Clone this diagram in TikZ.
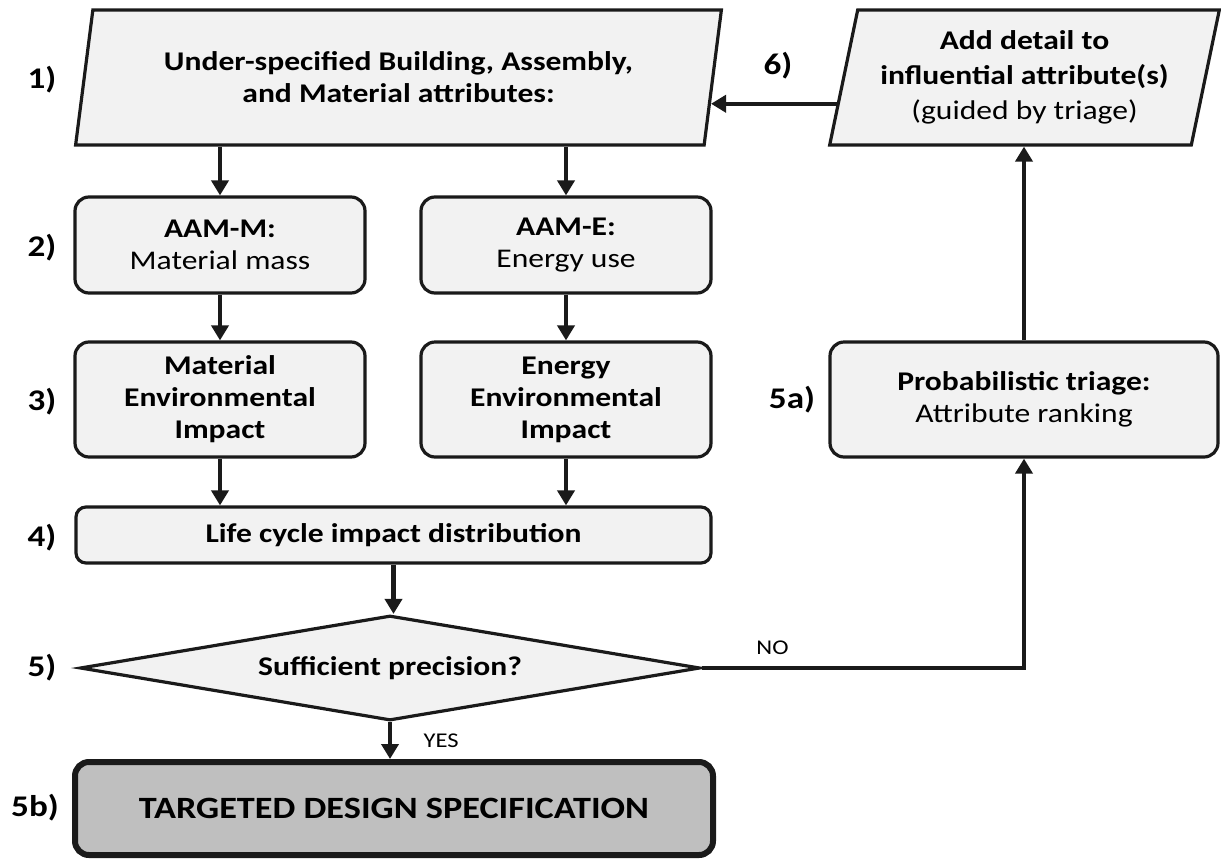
\documentclass[tikz,border=0pt]{standalone}
\usepackage{fontspec}
\setmainfont[FakeStretch=1.17]{Carlito}
\usetikzlibrary{shapes.geometric,arrows.meta}
\definecolor{boxfill}{HTML}{F2F2F2}
\definecolor{endfill}{HTML}{BFBFBF}
\definecolor{ink}{HTML}{1A1A1A}
\tikzset{
  base/.style={draw=ink, line width=3.2pt, fill=boxfill, align=center, inner sep=0pt,
    font=\fontsize{27}{32}\selectfont},
  rbox/.style={base, rectangle, rounded corners=14pt},
  para/.style={base, trapezium, trapezium left angle=75.5, trapezium right angle=104.5,
    trapezium stretches=true},
  dia/.style={base, diamond, aspect=5.9},
  endbox/.style={rbox, fill=endfill, line width=6pt, font=\bfseries\fontsize{31}{36}\selectfont},
  arr/.style={draw=ink, line width=4.5pt, -{Triangle[length=15pt,width=17pt]}},
  num/.style={font=\bfseries\fontsize{30}{34}\selectfont, anchor=center},
  yn/.style={font=\fontsize{21}{25}\selectfont}
}
\begin{document}
\begin{tikzpicture}[x=1pt,y=-1pt]
\useasboundingbox (0,0) rectangle (1221,860);
% nodes
\node[para, minimum width=647pt, minimum height=135pt] (p1) at (398.5,77.5)
  {\bfseries Under-specified Building, Assembly,\\\bfseries and Material attributes:};
\node[para, minimum width=391pt, minimum height=135pt,
  font=\fontsize{27}{35}\selectfont] (p6) at (1024.5,77.5)
  {\bfseries Add detail to\\\bfseries influential attribute(s)\\(guided by triage)};
\node[rbox, minimum width=290pt, minimum height=96pt] (m2) at (220,245)
  {\bfseries AAM-M:\\Material mass};
\node[rbox, minimum width=290pt, minimum height=96pt] (e2) at (566,245)
  {\bfseries AAM-E:\\Energy use};
\node[rbox, minimum width=290pt, minimum height=115pt] (m3) at (220,399.5)
  {\bfseries Material\\\bfseries Environmental\\\bfseries Impact};
\node[rbox, minimum width=290pt, minimum height=115pt] (e3) at (566,399.5)
  {\bfseries Energy\\\bfseries Environmental\\\bfseries Impact};
\node[rbox, minimum width=388pt, minimum height=115pt] (a5) at (1024,399.5)
  {\bfseries Probabilistic triage:\\Attribute ranking};
\node[rbox, rounded corners=10pt, minimum width=635pt, minimum height=56pt] (b4) at (393.5,535)
  {\bfseries Life cycle impact distribution};
\node[dia, minimum width=620pt, minimum height=105pt] (d5) at (390,668)
  {\bfseries Sufficient precision?};
\node[endbox, minimum width=638pt, minimum height=93pt] (b5) at (394,808.5)
  {TARGETED DESIGN SPECIFICATION};
% step labels
\node[num] (l1) at (42,80) {1)};
\node[num] (l2) at (42,248) {2)};
\node[num] (l3) at (42,402) {3)};
\node[num] (l4) at (42,538) {4)};
\node[num] (l5) at (42,668) {5)};
\node[num] (l5b) at (35,808) {5b)};
\node[num] (l5a) at (792,400) {5a)};
\node[num] (l6) at (778,66) {6)};
% connectors
\draw[arr] (m2.north |- p1.south) -- (m2.north);
\draw[arr] (e2.north |- p1.south) -- (e2.north);
\draw[arr] (m2.south) -- (m3.north);
\draw[arr] (e2.south) -- (e3.north);
\draw[arr] (m3.south) -- (m3.south |- b4.north);
\draw[arr] (e3.south) -- (e3.south |- b4.north);
\draw[arr] (b4.south) -- (b4.south |- d5.north);
\draw[arr] (d5.south) -- (d5.south |- b5.north)
  node[yn, midway, right=28pt] (yes) {YES};
\draw[arr] (d5.east) -| (a5.south)
  node[yn, pos=0.11, above=8pt] (no) {NO};
\draw[arr] (a5.north) -- (a5.north |- p6.south);
\path (p6.bottom left corner) -- (p6.top left corner) coordinate[pos=0.31] (p6a);
\path (p1.bottom right corner) -- (p1.top right corner) coordinate[pos=0.31] (p1a);
\draw[arr] (p6a) -- (p1a);
\end{tikzpicture}
\end{document}
